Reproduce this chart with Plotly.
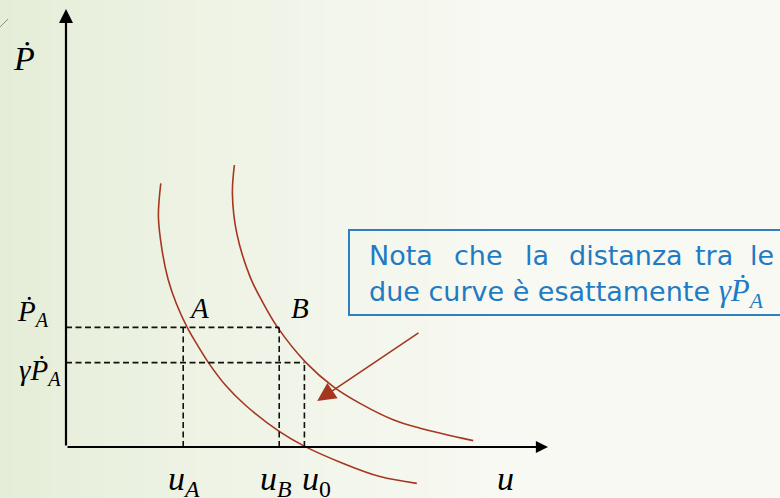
import plotly.graph_objects as go

# ---------------- data (model units) ----------------
curve1_u = [2.37, 2.31, 2.40, 2.55, 2.76, 3.03, 3.29, 3.56, 4.00, 4.48, 5.33, 5.98, 6.93, 7.85, 8.77]
curve1_p = [6.59, 5.76, 4.93, 4.20, 3.58, 2.99, 2.54, 2.11, 1.53, 1.05, 0.39, 0.01, -0.41, -0.74, -0.91]
curve2_u = [4.21, 4.16, 4.27, 4.60, 4.90, 5.29, 6.00, 6.68, 7.35, 8.18, 8.85, 10.18]
curve2_p = [7.05, 6.34, 5.34, 4.26, 3.65, 2.99, 2.11, 1.51, 1.09, 0.68, 0.47, 0.16]

U_A, U_B, U_0 = 2.93, 5.33, 5.96
P_A, GAMMA_P_A = 2.99, 2.11
U_MAX, P_MAX = 12.05, 10.95
arrow_from = [8.85, 2.88]
arrow_to = [6.28, 1.15]

x_tick_labels = ["<i>u<sub>A</sub></i>", "<i>u<sub>B</sub></i>", "<i>u</i><sub>0</sub>"]
y_tick_labels = ["<i>Ṗ<sub>A</sub></i>", "<i>γṖ<sub>A</sub></i>"]
point_labels = ["<i>A</i>", "<i>B</i>"]
axis_labels = ["<i>Ṗ</i>", "<i>u</i>"]
note_line1 = ["Nota", "che", "la", "distanza", "tra", "le"]
note_line2 = "due curve è esattamente "
note_math = "<i>γṖ<sub>A</sub></i>"

# ---------------- geometry / style ----------------
W, H = 780, 498
S = 40.0            # px per unit
OX, OY = 66, 447    # pixel position of origin
RED = "#A5361F"
BLUE_TXT = "#1F7BC4"
BLUE_BOX = "#2E7EC2"
MATH_FONT = "Liberation Serif, DejaVu Serif, serif"
TEXT_FONT = "DejaVu Sans, sans-serif"

def px2x(px):
    return (px - OX) / S

def py2y(py):
    return (OY - py) / S

fig = go.Figure()

# curves
for cu, cp in ((curve1_u, curve1_p), (curve2_u, curve2_p)):
    fig.add_trace(go.Scatter(x=cu, y=cp, mode="lines",
                             line=dict(color=RED, width=1.6, shape="spline", smoothing=1.0),
                             hoverinfo="skip"))

# dashed guide lines
dash_style = dict(color="#111111", width=1.6, dash="6px,3.5px")
guides = [
    ([0, U_B], [P_A, P_A]),
    ([0, U_0], [GAMMA_P_A, GAMMA_P_A]),
    ([U_A, U_A], [0, P_A]),
    ([U_B, U_B], [0, P_A]),
    ([U_0, U_0], [0, GAMMA_P_A]),
]
for gx, gy in guides:
    fig.add_trace(go.Scatter(x=gx, y=gy, mode="lines", line=dash_style, hoverinfo="skip"))

annotations = []
# axes with arrowheads
annotations.append(dict(x=0, y=P_MAX, ax=0, ay=0, xref="x", yref="y", axref="x", ayref="y",
                        text="", showarrow=True, arrowhead=2, arrowsize=1.27,
                        arrowwidth=2.2, arrowcolor="#000000"))
annotations.append(dict(x=U_MAX, y=0, ax=0, ay=0, xref="x", yref="y", axref="x", ayref="y",
                        text="", showarrow=True, arrowhead=2, arrowsize=1.1,
                        arrowwidth=2.2, arrowcolor="#000000"))
# red arrow
annotations.append(dict(x=arrow_to[0], y=arrow_to[1], ax=arrow_from[0], ay=arrow_from[1],
                        xref="x", yref="y", axref="x", ayref="y",
                        text="", showarrow=True, arrowhead=2, arrowsize=2.3,
                        arrowwidth=1.6, arrowcolor=RED))

def math_ann(text, x, y, size, xanchor="center", xshift=0, yshift=0):
    return dict(text=text, x=x, y=y, xref="x", yref="y", showarrow=False,
                xanchor=xanchor, yanchor="middle", xshift=xshift, yshift=yshift,
                font=dict(family=MATH_FONT, size=size, color="#000000"))

# axis labels
annotations.append(math_ann(axis_labels[0], px2x(24), py2y(58), 34))
annotations.append(math_ann(axis_labels[1], px2x(505), 0, 34, yshift=-31))
# x tick labels
annotations.append(math_ann(x_tick_labels[0], U_A, 0, 34, xshift=1, yshift=-34))
annotations.append(math_ann(x_tick_labels[1], U_B, 0, 34, xshift=-3, yshift=-34))
annotations.append(math_ann(x_tick_labels[2], U_0, 0, 34, xshift=12, yshift=-34))
# y tick labels
annotations.append(math_ann(y_tick_labels[0], 0, P_A, 29, xanchor="right", xshift=-15, yshift=14))
annotations.append(math_ann(y_tick_labels[1], 0, GAMMA_P_A, 29, xanchor="right", xshift=-3, yshift=-9))
# point labels
annotations.append(math_ann(point_labels[0], U_A, P_A, 29, xshift=16, yshift=19))
annotations.append(math_ann(point_labels[1], U_B, P_A, 29, xshift=21, yshift=19))

# note text (justified first line)
word_px = [366.7, 451.7, 523, 567, 693, 748]
for wtxt, wx in zip(note_line1, word_px):
    annotations.append(dict(text=wtxt, x=wx / W, y=1 - 256 / H, xref="paper", yref="paper",
                            showarrow=False, xanchor="left", yanchor="middle",
                            font=dict(family=TEXT_FONT, size=27, color=BLUE_TXT)))
annotations.append(dict(text=note_line2 + '<span style="font-family:Liberation Serif;font-size:31px">' + note_math + "</span>",
                        x=366.7 / W, y=1 - 293 / H, xref="paper", yref="paper",
                        showarrow=False, xanchor="left", yanchor="middle",
                        font=dict(family=TEXT_FONT, size=27, color=BLUE_TXT)))

# background gradient stripes
shapes = []
N = 60
left = (228, 237, 215)
right = (248, 249, 243)
for i in range(N):
    t = (i + 0.5) / N
    k = min(1.0, t / 0.65) ** 0.8
    c = tuple(int(round(left[j] + (right[j] - left[j]) * k)) for j in range(3))
    shapes.append(dict(type="rect", xref="paper", yref="paper", x0=i / N, x1=(i + 1) / N + 0.002,
                       y0=0, y1=1, line=dict(width=0), fillcolor="rgb(%d,%d,%d)" % c, layer="below"))
# decorative corner line
shapes.append(dict(type="line", xref="paper", yref="paper", x0=0, y0=1 - 27 / H, x1=8 / W, y1=1 - 19 / H,
                   line=dict(color="#8a8f84", width=1), layer="below"))
# note box
shapes.append(dict(type="rect", xref="paper", yref="paper", x0=349 / W, x1=1.02,
                   y0=1 - 315 / H, y1=1 - 230 / H, line=dict(color=BLUE_BOX, width=2),
                   fillcolor="rgba(0,0,0,0)"))

fig.update_layout(
    width=W, height=H, margin=dict(l=0, r=0, t=0, b=0),
    xaxis=dict(range=[-OX / S, (W - OX) / S], visible=False),
    yaxis=dict(range=[-(H - OY) / S, OY / S], visible=False),
    paper_bgcolor="rgb(240,244,232)", plot_bgcolor="rgba(0,0,0,0)",
    showlegend=False, annotations=annotations, shapes=shapes,
)

fig.write_html("out.html", config={"displayModeBar": False},
               post_script="document.body.style.margin='0';document.body.style.overflow='hidden';")
